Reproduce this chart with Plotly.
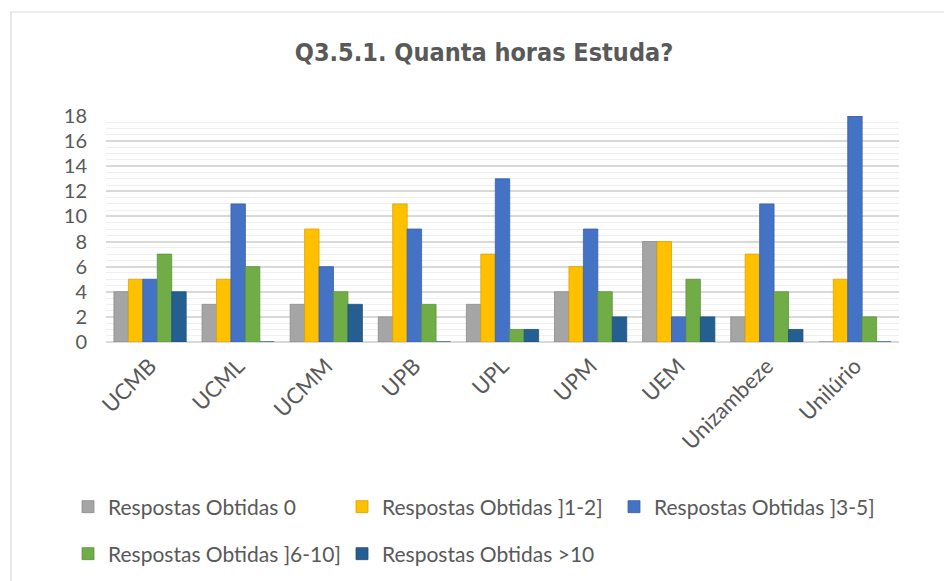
import plotly.graph_objects as go

categories = ["UCMB", "UCML", "UCMM", "UPB", "UPL", "UPM", "UEM", "Unizambeze", "Unilúrio"]
series_names = ["Respostas Obtidas 0", "Respostas Obtidas ]1-2]", "Respostas Obtidas ]3-5]",
                "Respostas Obtidas ]6-10]", "Respostas Obtidas >10"]
resp_0 = [4, 3, 3, 2, 3, 4, 8, 2, 0]
resp_1_2 = [5, 5, 9, 11, 7, 6, 8, 7, 5]
resp_3_5 = [5, 11, 6, 9, 13, 9, 2, 11, 18]
resp_6_10 = [7, 6, 4, 3, 1, 4, 5, 4, 2]
resp_gt10 = [4, 0, 3, 0, 1, 2, 2, 1, 0]
y_ticks = [0, 2, 4, 6, 8, 10, 12, 14, 16, 18]

colors = ["#A5A5A5", "#FFC000", "#4472C4", "#70AD47", "#255E91"]
edge = ["#8c8c8c", "#d9a300", "#3a61a8", "#5f933c", "#1f507b"]
values = [resp_0, resp_1_2, resp_3_5, resp_6_10, resp_gt10]

W, H = 952, 581
L, R, T, B = 98, W - 891, 108, H - 334
FONT = "Lato, Carlito, Calibri, sans-serif"
GRAY = "#595959"

# legend placement (container px): text-left x and row centre y
legend_pos = [(110, 499), (384, 499), (656, 499), (110, 546), (384, 546)]
legend_ids = ["legend", "legend2", "legend3", "legend4", "legend5"]

fig = go.Figure()
for i, (name, vals) in enumerate(zip(series_names, values)):
    fig.add_trace(go.Bar(
        x=categories, y=vals, name=name,
        marker=dict(color=colors[i], line=dict(color=edge[i], width=0.8)),
        legend=legend_ids[i],
    ))

pw, ph = W - L - R, H - T - B
def px_x(p):
    return (p - L) / pw
def px_y(p):
    return (H - B - p) / ph

legends = {}
for lid, (tx, ty) in zip(legend_ids, legend_pos):
    legends[lid] = dict(orientation="h", xref="container", yref="container",
                        x=(tx - 50) / W, xanchor="left", y=1 - ty / H, yanchor="middle",
                        font=dict(size=21, color=GRAY, family=FONT),
                        bgcolor="rgba(0,0,0,0)", visible=True)

fig.update_layout(
    width=W, height=H,
    showlegend=True,
    margin=dict(l=L, r=R, t=T, b=B, autoexpand=False),
    paper_bgcolor="white", plot_bgcolor="white",
    barmode="group", bargap=0.18, bargroupgap=0.0,
    font=dict(family=FONT, color=GRAY, size=17),
    title=dict(text="<b>Q3.5.1. Quanta horas Estuda?</b>",
               font=dict(family="Liberation Sans Narrow, DejaVu Sans Condensed, Arial Narrow, sans-serif",
                         size=25, color=GRAY),
               x=0.5, xref="container", xanchor="center",
               y=1 - 44 / H, yref="container", yanchor="middle"),
    xaxis=dict(tickangle=-45, tickfont=dict(size=22, color=GRAY), showgrid=False,
               showline=False, ticks="", ticklabelstandoff=6),
    yaxis=dict(range=[0, 18], tickvals=y_ticks, tickfont=dict(size=20, color=GRAY),
               showgrid=True, gridcolor="#d9d9d9", gridwidth=1.5,
               minor=dict(dtick=0.5, showgrid=True, gridcolor="#efefef", gridwidth=1),
               zeroline=True, zerolinecolor="#d9d9d9", zerolinewidth=1.5,
               ticklabelstandoff=18, showline=False, ticks=""),
    shapes=[dict(type="rect", xref="paper", yref="paper",
                 x0=px_x(3), x1=px_x(946), y0=px_y(577), y1=px_y(4),
                 line=dict(color="#d9d9d9", width=1.2), fillcolor="rgba(0,0,0,0)",
                 layer="below")],
    **legends,
)

fig.write_html("out.html")
